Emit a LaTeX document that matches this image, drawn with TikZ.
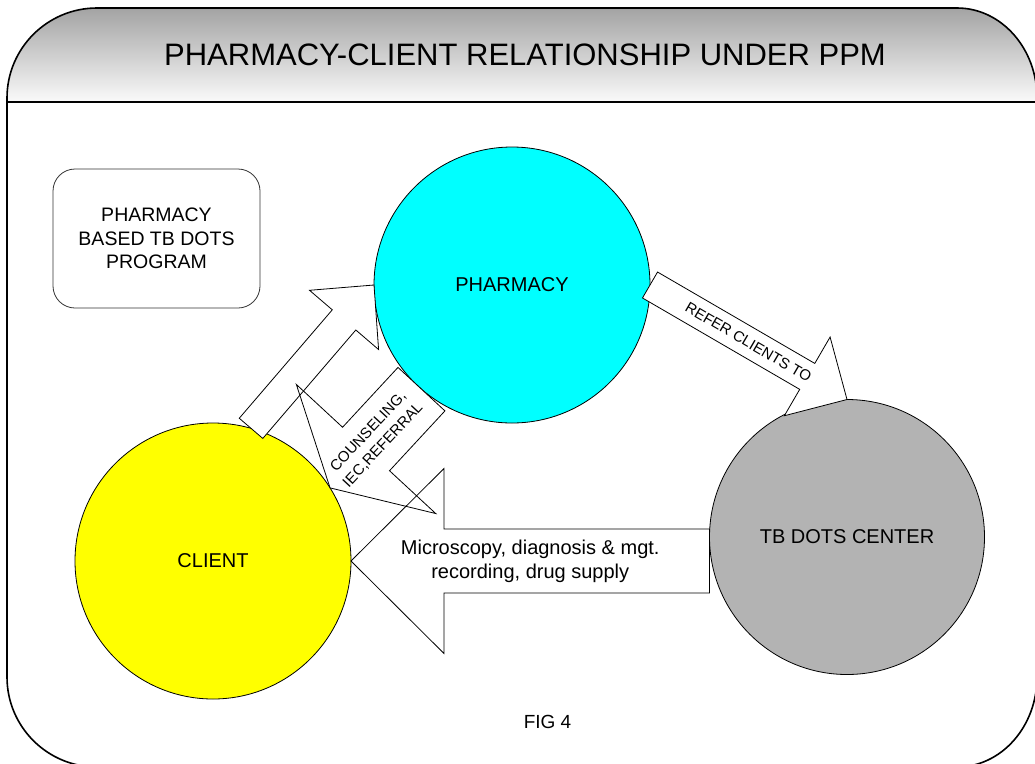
\documentclass[tikz,border=0pt]{standalone}
\usepackage{fontspec}
\setmainfont{Liberation Sans}
\usetikzlibrary{calc}
\definecolor{tbgray}{RGB}{179,179,179}
\definecolor{pharmcyan}{RGB}{0,255,255}
\definecolor{clientyellow}{RGB}{255,255,0}
% Block arrow outline: #1 options, #2 base, #3 neck, #4 tip,
% #5 shaft half width, #6 head half width
\newcommand\blockarrow[6]{%
  \path[#1] ($(#2)!#5!90:(#4)$) -- ($(#3)!#5!90:(#4)$) -- ($(#3)!#6!90:(#4)$) -- (#4)
    -- ($(#3)!#6!-90:(#4)$) -- ($(#3)!#5!-90:(#4)$) -- ($(#2)!#5!-90:(#4)$) -- cycle;}
\begin{document}
\begin{tikzpicture}[x=1pt,y=-1pt,
  frame/.style={draw=black,line width=1.6pt},
  bubble/.style={circle,draw=black,line width=0.8pt,minimum size=276pt,inner sep=0pt,outer sep=0pt,
    font=\fontsize{20}{24}\selectfont},
  arrowfill/.style={fill=white},
  arrowline/.style={draw=black,line width=0.8pt,line join=miter},
  biglabel/.style={font=\fontsize{20}{24}\selectfont,align=center,inner sep=0pt},
  smalllabel/.style={font=\fontsize{15}{20}\selectfont,align=center,inner sep=0pt}]
\useasboundingbox (0,0) rectangle (1035,763);
\clip (0,0) rectangle (1035,763);

% title band
\shade[top color=black!36,bottom color=black!2]
  (7,102) -- (7,98) arc[start angle=180,end angle=90,radius=90pt] -- (957,8)
  arc[start angle=90,end angle=0,x radius=80pt,y radius=90pt] -- (1037,102) -- cycle;
\draw[frame] (7,98) arc[start angle=180,end angle=90,radius=90pt] -- (957,8)
  arc[start angle=90,end angle=0,x radius=80pt,y radius=90pt] -- (1037,677)
  arc[start angle=0,end angle=-90,x radius=80pt,y radius=90pt] -- (97,767)
  arc[start angle=270,end angle=180,radius=90pt] -- cycle;
\draw[draw=black,line width=2pt] (7,102) -- (1037,102);
\node[font=\fontsize{31}{36}\selectfont,inner sep=0pt] (title) at (525,55)
  {PHARMACY-CLIENT RELATIONSHIP UNDER PPM};

% program box
\node[draw=black!80,line width=0.8pt,rounded corners=22pt,minimum width=207pt,minimum height=139pt,
  biglabel,font=\fontsize{19.5}{23.5}\selectfont] (prog) at (156.5,238.5)
  {PHARMACY\\BASED TB DOTS\\PROGRAM};

% parties
\node[bubble,fill=pharmcyan] (pharm) at (512,285) {PHARMACY};
\node[bubble,fill=clientyellow] (client) at (213,561) {CLIENT};
\node[bubble,fill=tbgray,minimum size=275pt] (tb) at (847,537) {TB DOTS CENTER};

% arrow end points
\coordinate (b1) at (client.74.6);
\coordinate (t1) at (pharm.west);
\coordinate (n1) at ($(t1)!46pt!(b1)$);
\coordinate (b2) at (pharm.229);
\coordinate (t2) at (client.32);
\coordinate (n2) at ($(t2)!53pt!(b2)$);
\coordinate (b3) at (pharm.east);
\coordinate (t3) at (tb.north);
\coordinate (n3) at ($(t3)!46pt!(b3)$);
\coordinate (b4) at (tb.west |- client.east);
\coordinate (t4) at (client.east);
\coordinate (n4) at ($(t4)!93pt!(b4)$);

% arrow bodies first, outlines on top
\blockarrow{arrowfill}{b1}{n1}{t1}{15.5pt}{45.5pt}
\blockarrow{arrowfill}{b2}{n2}{t2}{32pt}{95pt}
\blockarrow{arrowfill}{b3}{n3}{t3}{15pt}{45.5pt}
\blockarrow{arrowfill}{b4}{n4}{t4}{32pt}{92.5pt}
\blockarrow{arrowline}{b1}{n1}{t1}{15.5pt}{45.5pt}
\blockarrow{arrowline}{b2}{n2}{t2}{32pt}{95pt}
\blockarrow{arrowline}{b3}{n3}{t3}{15pt}{45.5pt}
\blockarrow{arrowline}{b4}{n4}{t4}{32pt}{92.5pt}

% arrow labels
\node[smalllabel,rotate=47] (counsel) at ($(b2)!0.5!(t2)$) {COUNSELING,\\IEC,REFERRAL};
\node[smalllabel,rotate=-30.3] (refer) at ($(b3)!0.5!(t3)$) {REFER CLIENTS TO};
\node[biglabel] (services) at ($(b4)!0.5!(t4)$) {Microscopy, diagnosis \& mgt.\\recording, drug supply};

\node[font=\fontsize{19}{23}\selectfont,inner sep=0pt] (fig) at (547.5,721.5) {FIG 4};
\end{tikzpicture}
\end{document}
